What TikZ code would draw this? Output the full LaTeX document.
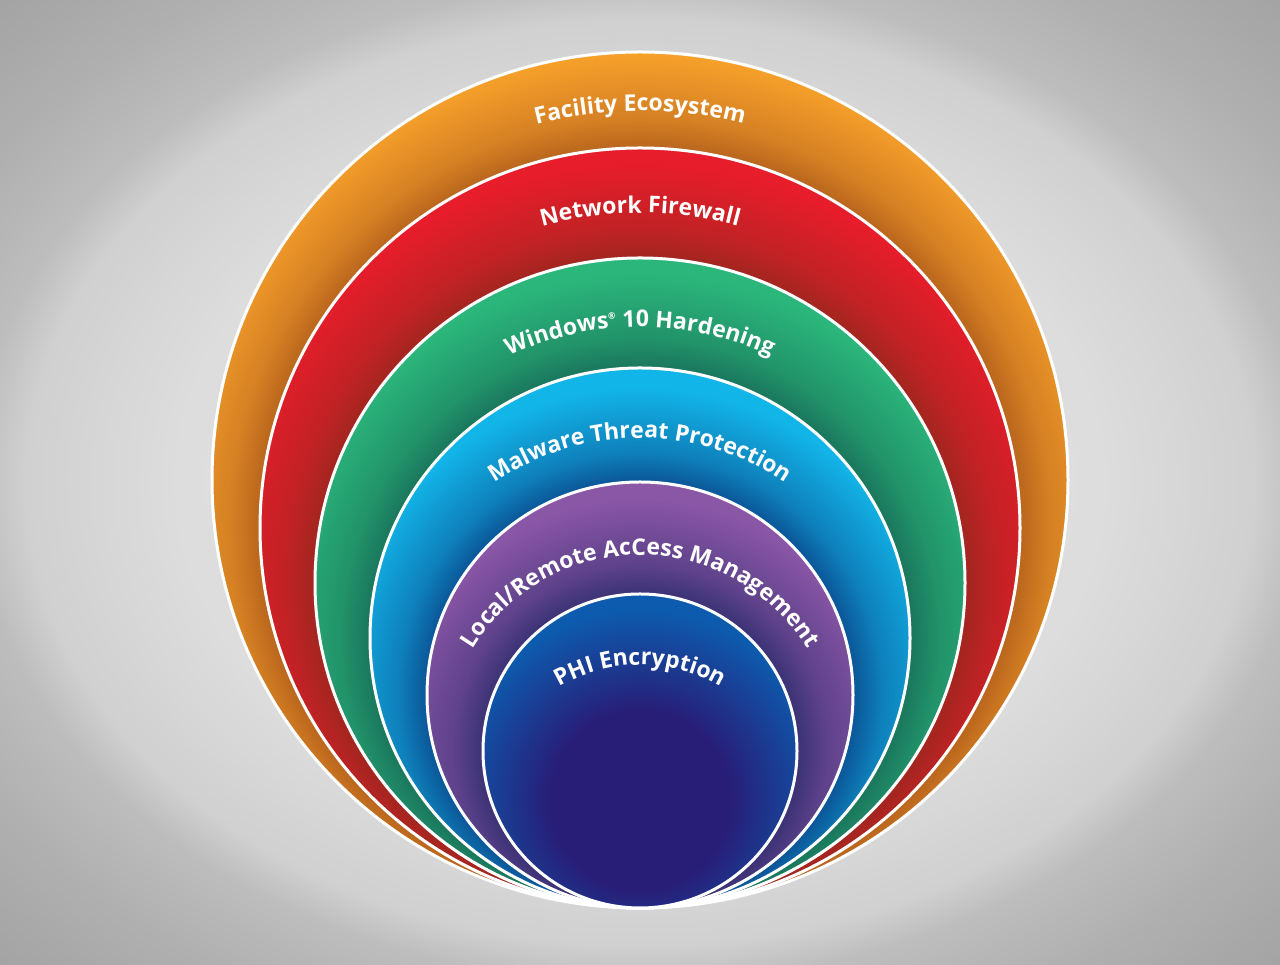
\documentclass[tikz,border=0pt]{standalone}
\usepackage{fontspec}
\setmainfont{Open Sans}
\usetikzlibrary{decorations.text,calc}
\definecolor{bgA}{HTML}{E6E6E6}
\definecolor{bgB}{HTML}{DDDDDD}
\definecolor{bgC}{HTML}{D0D0D0}
\definecolor{bgD}{HTML}{BDBDBD}
\definecolor{bgE}{HTML}{B0B0B0}
\definecolor{bgF}{HTML}{A2A2A2}
\definecolor{orB}{HTML}{F7A12B}
\definecolor{orD}{HTML}{B9651D}
\definecolor{rdB}{HTML}{E71D2B}
\definecolor{rdD}{HTML}{A2261F}
\definecolor{grB}{HTML}{2BB67B}
\definecolor{grD}{HTML}{1A765C}
\definecolor{blB}{HTML}{12B5E8}
\definecolor{blD}{HTML}{0B5597}
\definecolor{puB}{HTML}{8A56A6}
\definecolor{puD}{HTML}{3A3274}
\definecolor{inB}{HTML}{0D5BAE}
\definecolor{inD}{HTML}{281E77}
\colorlet{orM}{orB!45!orD}
\colorlet{rdM}{rdB!45!rdD}
\colorlet{grM}{grB!45!grD}
\colorlet{blM}{blB!45!blD}
\colorlet{puM}{puB!45!puD}
\pgfdeclareradialshading{bgshade}{\pgfpointorigin}{color(0bp)=(bgA); color(18bp)=(bgB); color(24bp)=(bgC); color(26bp)=(bgD); color(30bp)=(bgE); color(36bp)=(bgF); color(50bp)=(bgF)}
\pgfdeclareradialshading{orshade}{\pgfpointorigin}{color(0bp)=(orD); color(19bp)=(orD); color(20.5bp)=(orM); color(23.75bp)=(orB); color(50bp)=(orB)}
\pgfdeclareradialshading{rdshade}{\pgfpointorigin}{color(0bp)=(rdD); color(16.25bp)=(rdD); color(17.75bp)=(rdM); color(21bp)=(rdB); color(50bp)=(rdB)}
\pgfdeclareradialshading{grshade}{\pgfpointorigin}{color(0bp)=(grD); color(13.5bp)=(grD); color(15bp)=(grM); color(18.25bp)=(grB); color(50bp)=(grB)}
\pgfdeclareradialshading{blshade}{\pgfpointorigin}{color(0bp)=(blD); color(10.65bp)=(blD); color(12.15bp)=(blM); color(15.4bp)=(blB); color(50bp)=(blB)}
\pgfdeclareradialshading{pushade}{\pgfpointorigin}{color(0bp)=(puD); color(7.85bp)=(puD); color(9.35bp)=(puM); color(12.6bp)=(puB); color(50bp)=(puB)}
\pgfdeclareradialshading{inshade}{\pgfpointorigin}{color(0bp)=(inD); color(9bp)=(inD); color(19bp)=(inB); color(50bp)=(inB)}
\newcommand\lblfmt{\fontsize{23pt}{27pt}\selectfont\bfseries}
\tikzset{
  ring/.style={draw=white, line width=3pt},
  lbl/.style={decorate, decoration={text along path, text align=center, text color=white, text={|\lblfmt|#1}}}
}
\begin{document}
\begin{tikzpicture}[x=1pt,y=1pt]
\useasboundingbox (0,0) rectangle (1280,965);
\shade[shading=bgshade] (0,0) rectangle (1280,965);
% centres
\coordinate (cO) at (640,485);
\coordinate (cR) at (640,437);
\coordinate (cG) at (640,382);
\coordinate (cB) at (640,327);
\coordinate (cP) at (640,270);
\coordinate (cI) at (640,214);
\coordinate (cT) at (640,140);
% orange
\begin{scope}
  \clip (cO) circle (428);
  \shade[shading=orshade] ($(cR)+(-500,-500)$) rectangle ($(cR)+(500,500)$);
\end{scope}
\draw[ring] (cO) circle (428);
% red
\begin{scope}
  \clip (cR) circle (380);
  \shade[shading=rdshade] ($(cG)+(-500,-500)$) rectangle ($(cG)+(500,500)$);
\end{scope}
\draw[ring] (cR) circle (380);
% green
\begin{scope}
  \clip (cG) circle (325);
  \shade[shading=grshade] ($(cB)+(-500,-500)$) rectangle ($(cB)+(500,500)$);
\end{scope}
\draw[ring] (cG) circle (325);
% blue
\begin{scope}
  \clip (cB) circle (270);
  \shade[shading=blshade] ($(cP)+(-500,-500)$) rectangle ($(cP)+(500,500)$);
\end{scope}
\draw[ring] (cB) circle (270);
% purple
\begin{scope}
  \clip (cP) circle (213);
  \shade[shading=pushade] ($(cI)+(-500,-500)$) rectangle ($(cI)+(500,500)$);
\end{scope}
\draw[ring] (cP) circle (213);
% inner
\begin{scope}
  \clip (cI) circle (157);
  \shade[shading=inshade] (390,-85) rectangle (890,415);
\end{scope}
\draw[ring] (cI) circle (157);
% labels
\path[lbl={Facility Ecosystem}] (cR) ++(150:417) arc[start angle=150, end angle=30, radius=417];
\path[lbl={Network Firewall}] (cG) ++(150:370) arc[start angle=150, end angle=30, radius=370];
\path[lbl={Windows{\raisebox{9pt}{\fontsize{9pt}{9pt}\selectfont ®}} 10 Hardening}] (cB) ++(160:311) arc[start angle=160, end angle=20, radius=311];
\path[lbl={Malware Threat Protection}] (cP) ++(165:257) arc[start angle=165, end angle=15, radius=257];
\path[lbl={Local/Remote AcCess Management}] (cI) ++(178:196) arc[start angle=178, end angle=2, radius=196];
\path[lbl={PHI Encryption}] (cT) ++(160:160) arc[start angle=160, end angle=20, radius=160];
\end{tikzpicture}
\end{document}
